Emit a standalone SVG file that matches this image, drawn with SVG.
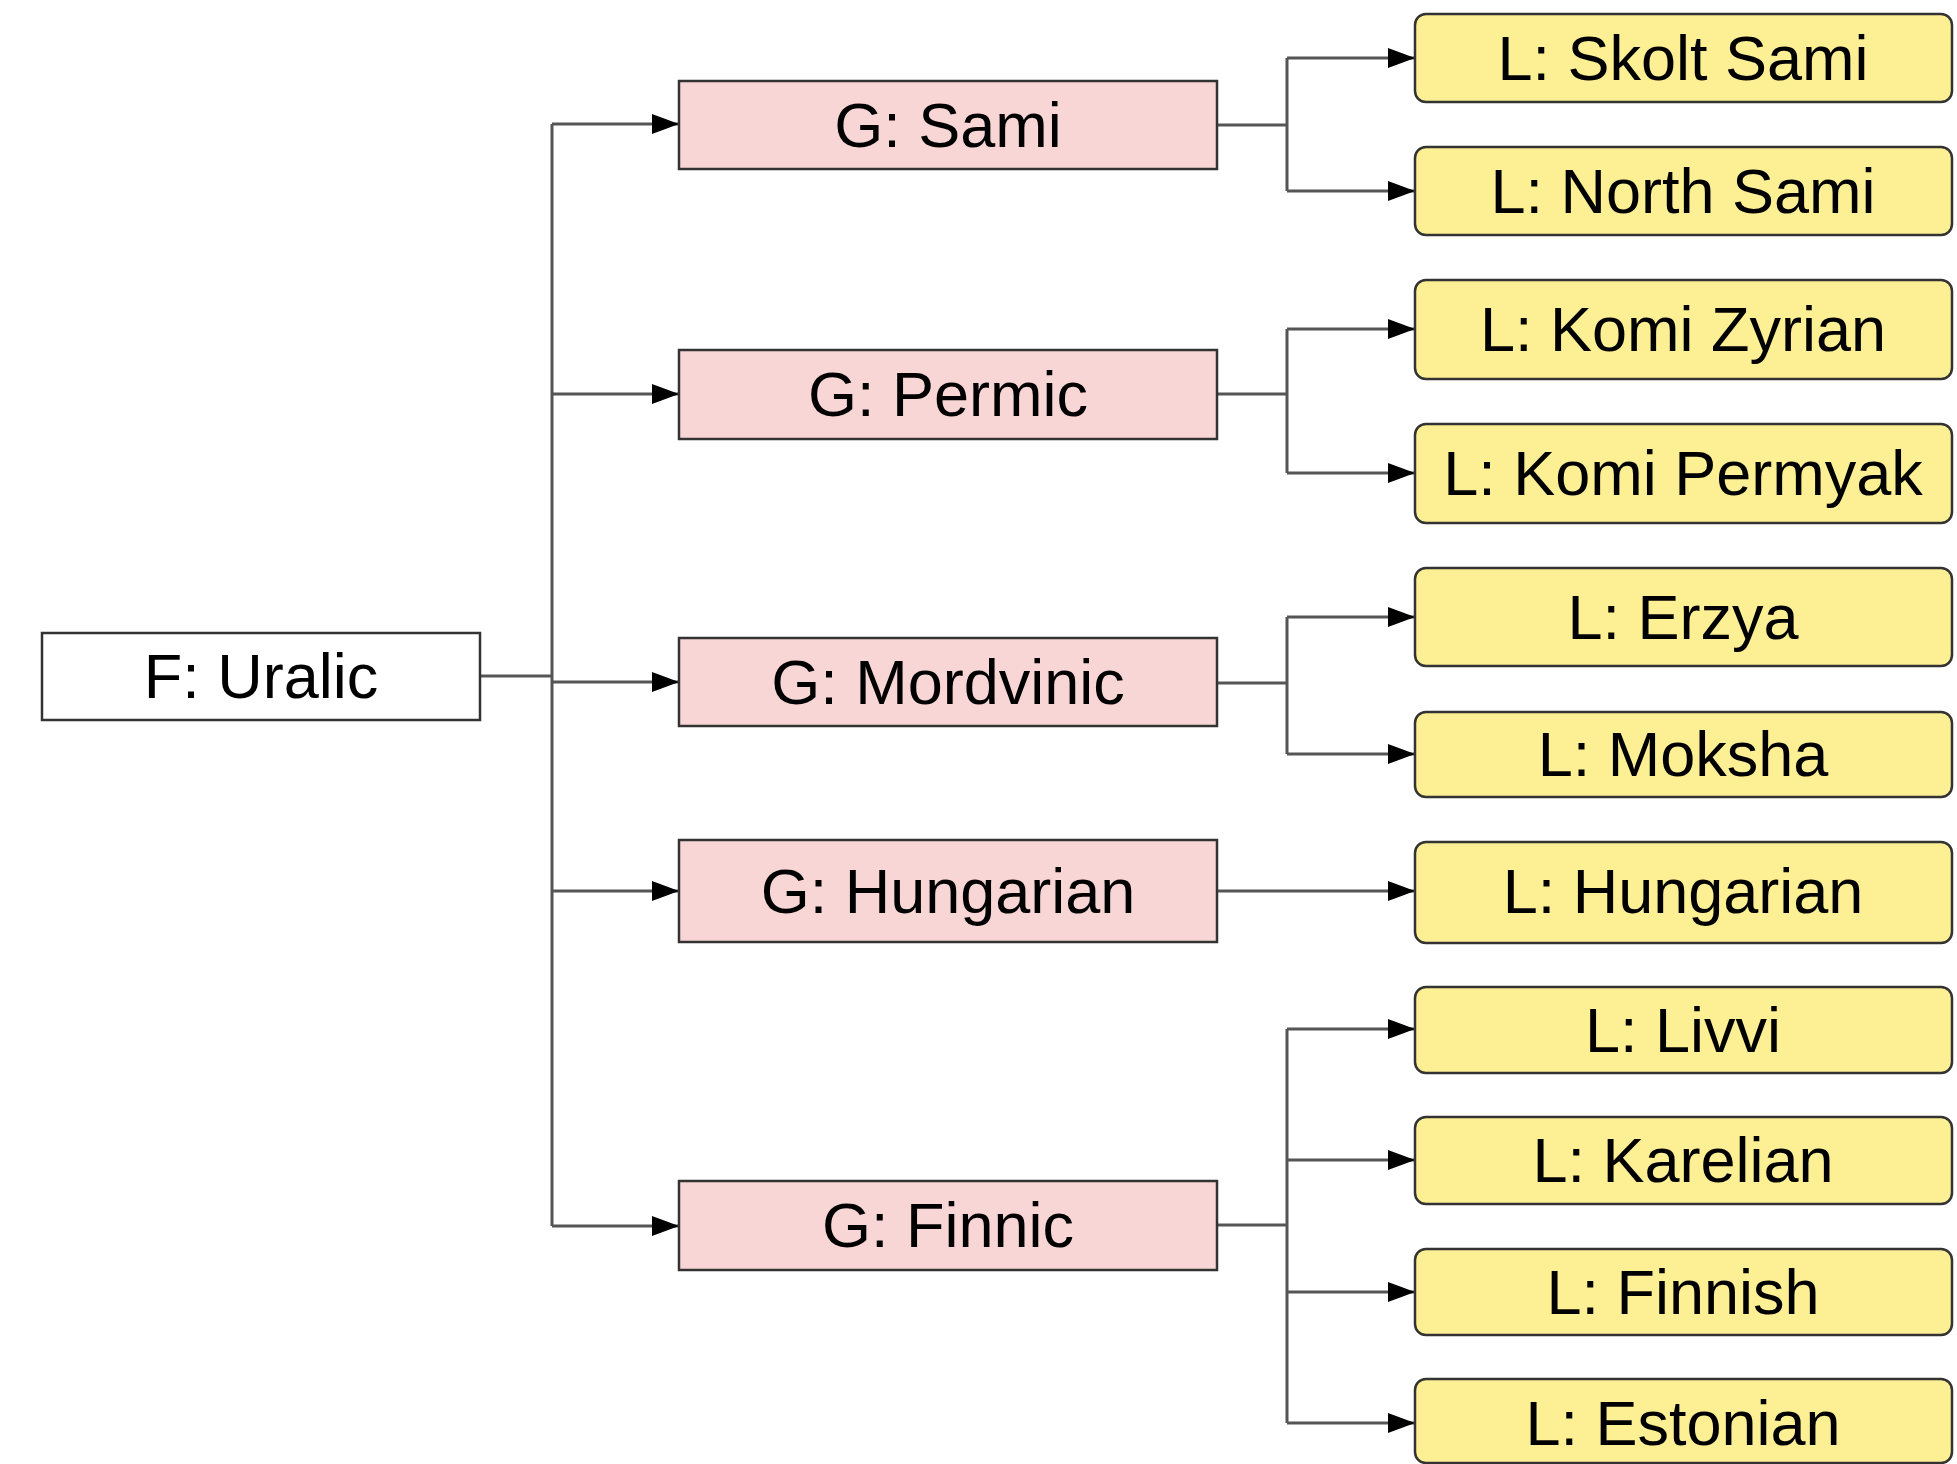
<svg xmlns="http://www.w3.org/2000/svg" width="1957" height="1464" viewBox="0 0 1957 1464">
<style>
.box{stroke:#333;stroke-width:2.5}
.f{fill:#ffffff}
.g{fill:#f9d6d6}
.l{fill:#fcef94}
.t{font-family:"Liberation Sans",Arial,sans-serif;font-size:63px;fill:#000;text-anchor:middle}
.c{fill:none;stroke:#555;stroke-width:3}
.a{marker-end:url(#arr)}
</style>
<defs>
<marker id="arr" markerUnits="userSpaceOnUse" markerWidth="27" markerHeight="20" refX="27" refY="10" orient="auto">
<path d="M0,0 L27,10 L0,20 z" fill="#000"/>
</marker>
</defs>
<rect width="1957" height="1464" fill="#fff"/>
<g id="connectors">
<path class="c" d="M480,676 H552"/>
<path class="c" d="M552,124 V1226"/>
<path class="c a" d="M552,124 H679"/>
<path class="c a" d="M552,394 H679"/>
<path class="c a" d="M552,682 H679"/>
<path class="c a" d="M552,891 H679"/>
<path class="c a" d="M552,1226 H679"/>
<path class="c" d="M1217,125 H1287 M1287,58 V191"/>
<path class="c a" d="M1287,58 H1415"/>
<path class="c a" d="M1287,191 H1415"/>
<path class="c" d="M1217,394 H1287 M1287,329 V473"/>
<path class="c a" d="M1287,329 H1415"/>
<path class="c a" d="M1287,473 H1415"/>
<path class="c" d="M1217,683 H1287 M1287,617 V754"/>
<path class="c a" d="M1287,617 H1415"/>
<path class="c a" d="M1287,754 H1415"/>
<path class="c a" d="M1217,891 H1415"/>
<path class="c" d="M1217,1225 H1287 M1287,1029 V1423"/>
<path class="c a" d="M1287,1029 H1415"/>
<path class="c a" d="M1287,1160 H1415"/>
<path class="c a" d="M1287,1292 H1415"/>
<path class="c a" d="M1287,1423 H1415"/>
</g>
<g id="f-uralic"><rect class="box f" x="42" y="633" width="438" height="87"/><text class="t" x="261" y="698">F: Uralic</text></g>
<g id="g-sami"><rect class="box g" x="679" y="81" width="538" height="88"/><text class="t" x="948" y="147">G: Sami</text></g>
<g id="g-permic"><rect class="box g" x="679" y="350" width="538" height="89"/><text class="t" x="948" y="416">G: Permic</text></g>
<g id="g-mordvinic"><rect class="box g" x="679" y="638" width="538" height="88"/><text class="t" x="948" y="704">G: Mordvinic</text></g>
<g id="g-hungarian"><rect class="box g" x="679" y="840" width="538" height="102"/><text class="t" x="948" y="913">G: Hungarian</text></g>
<g id="g-finnic"><rect class="box g" x="679" y="1181" width="538" height="89"/><text class="t" x="948" y="1247">G: Finnic</text></g>
<g id="l-skolt-sami"><rect class="box l" x="1415" y="14" width="537" height="88" rx="11"/><text class="t" x="1683" y="80">L: Skolt Sami</text></g>
<g id="l-north-sami"><rect class="box l" x="1415" y="147" width="537" height="88" rx="11"/><text class="t" x="1683" y="213">L: North Sami</text></g>
<g id="l-komi-zyrian"><rect class="box l" x="1415" y="280" width="537" height="99" rx="11"/><text class="t" x="1683" y="351">L: Komi Zyrian</text></g>
<g id="l-komi-permyak"><rect class="box l" x="1415" y="424" width="537" height="99" rx="11"/><text class="t" x="1683" y="495">L: Komi Permyak</text></g>
<g id="l-erzya"><rect class="box l" x="1415" y="568" width="537" height="98" rx="11"/><text class="t" x="1683" y="639">L: Erzya</text></g>
<g id="l-moksha"><rect class="box l" x="1415" y="712" width="537" height="85" rx="11"/><text class="t" x="1683" y="776">L: Moksha</text></g>
<g id="l-hungarian"><rect class="box l" x="1415" y="842" width="537" height="101" rx="11"/><text class="t" x="1683" y="913">L: Hungarian</text></g>
<g id="l-livvi"><rect class="box l" x="1415" y="987" width="537" height="86" rx="11"/><text class="t" x="1683" y="1052">L: Livvi</text></g>
<g id="l-karelian"><rect class="box l" x="1415" y="1117" width="537" height="87" rx="11"/><text class="t" x="1683" y="1182">L: Karelian</text></g>
<g id="l-finnish"><rect class="box l" x="1415" y="1249" width="537" height="86" rx="11"/><text class="t" x="1683" y="1314">L: Finnish</text></g>
<g id="l-estonian"><rect class="box l" x="1415" y="1379" width="537" height="84" rx="11"/><text class="t" x="1683" y="1445">L: Estonian</text></g>
</svg>
